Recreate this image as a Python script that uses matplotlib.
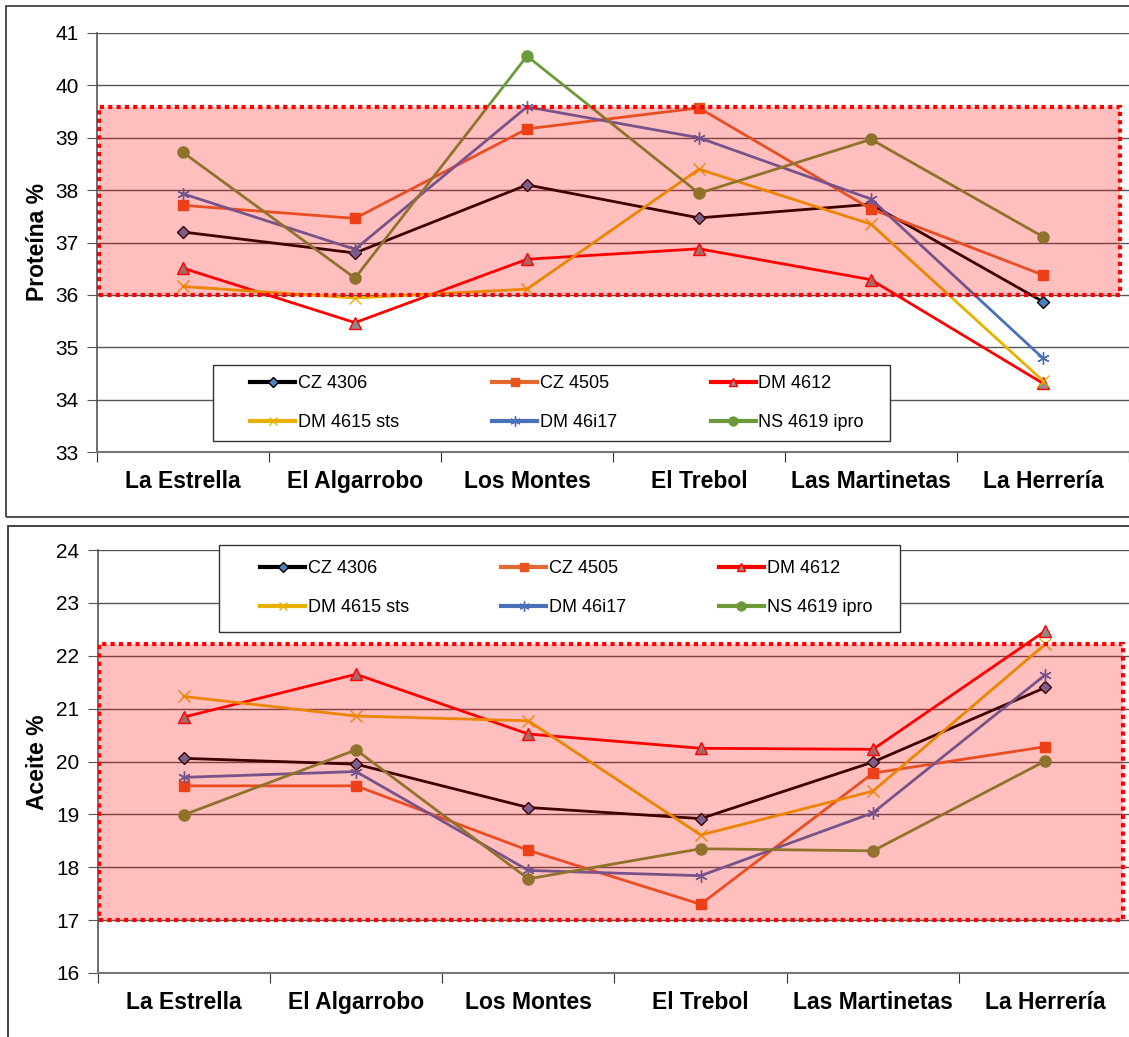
# Protein and oil content per variety across locations (two stacked line charts)

import matplotlib.pyplot as plt
from matplotlib.patches import Rectangle
from matplotlib.lines import Line2D

plt.rcParams["font.family"] = ["Liberation Sans", "DejaVu Sans"]

locations = ["La Estrella", "El Algarrobo", "Los Montes", "El Trebol", "Las Martinetas", "La Herrería"]
varieties = ["CZ 4306", "CZ 4505", "DM 4612", "DM 4615 sts", "DM 46i17", "NS 4619 ipro"]

# Proteína %
prot_cz4306 = [37.20, 36.80, 38.10, 37.47, 37.73, 35.87]
prot_cz4505 = [37.71, 37.46, 39.17, 39.57, 37.64, 36.38]
prot_dm4612 = [36.51, 35.47, 36.68, 36.88, 36.29, 34.31]
prot_dm4615 = [36.16, 35.94, 36.11, 38.40, 37.35, 34.36]
prot_dm46i17 = [37.93, 36.87, 39.59, 39.00, 37.83, 34.79]
prot_ns4619 = [38.72, 36.32, 40.56, 37.94, 38.97, 37.11]

# Aceite %
oil_cz4306 = [20.06, 19.95, 19.13, 18.92, 19.99, 21.40]
oil_cz4505 = [19.54, 19.54, 18.32, 17.30, 19.78, 20.28]
oil_dm4612 = [20.84, 21.65, 20.52, 20.25, 20.23, 22.47]
oil_dm4615 = [21.23, 20.86, 20.77, 18.61, 19.44, 22.22]
oil_dm46i17 = [19.70, 19.81, 17.94, 17.84, 19.03, 21.64]
oil_ns4619 = [18.99, 20.22, 17.78, 18.35, 18.31, 20.01]

# reference band for each chart (low, high)
prot_band = (36.0, 39.58)
oil_band = (17.0, 22.23)

protein = [prot_cz4306, prot_cz4505, prot_dm4612, prot_dm4615, prot_dm46i17, prot_ns4619]
oil = [oil_cz4306, oil_cz4505, oil_dm4612, oil_dm4615, oil_dm46i17, oil_ns4619]

# line colour, marker, marker face, marker edge, marker size
styles = [
    ("black", "D", "#4F81BD", "black", 6.5),
    ("#E2692F", "s", "#E8561E", "#E8561E", 7.5),
    ("red", "^", "#8C8C8C", "red", 8),
    ("#E8B100", "x", "#E8B100", "#E8B100", 8),
    ("#4A70BA", (6, 2, 0), "#4A70BA", "#4A70BA", 9),
    ("#6A9A3A", "o", "#6A9A3A", "#6A9A3A", 8),
]

W, H = 1129, 1037
fig = plt.figure(figsize=(W / 100, H / 100), dpi=100)

# chart frames
fig.patches.append(Rectangle((6 / W, 1 - 517 / H), 1.2, 511 / H, transform=fig.transFigure,
                             fill=False, edgecolor="#333333", lw=1.2))
fig.patches.append(Rectangle((8 / W, 1 - 1100 / H), 1.2, 574 / H, transform=fig.transFigure,
                             fill=False, edgecolor="#222222", lw=1.2))


def draw_panel(ax, series, ymin, ymax, band, ylabel, label_y, frame_box, entries_box):
    x = list(range(len(locations)))
    for vals, (lc, mk, mf, me, ms) in zip(series, styles):
        ax.plot(x, vals, color=lc, lw=2.0, marker=mk, markerfacecolor=mf,
                markeredgecolor=me, markersize=ms, markeredgewidth=1.0, zorder=3)
    # translucent red band drawn above the lines
    ax.add_patch(Rectangle((-0.49, band[0]), 5.94, band[1] - band[0], facecolor="red",
                           alpha=0.25, edgecolor="none", zorder=5))
    ax.add_patch(Rectangle((-0.49, band[0]), 5.94, band[1] - band[0], fill=False,
                           edgecolor="red", lw=3, linestyle=(0, (1, 1)), zorder=6))
    ax.set_xlim(-0.5, 5.5)
    ax.set_ylim(ymin, ymax)
    ax.set_yticks(range(ymin, ymax + 1))
    ax.yaxis.grid(True, color="#555555", lw=1)
    ax.set_axisbelow(True)
    ax.set_xticks([i + 0.5 for i in range(-1, 6)], minor=False)
    ax.set_xticklabels([])
    ax.set_xticks(x, minor=True)
    ax.set_xticklabels(locations, minor=True, fontsize=16.5, fontweight="bold")
    ax.tick_params(axis="x", which="minor", length=0, pad=13)
    ax.tick_params(axis="x", which="major", length=7, color="#333333", direction="out")
    ax.tick_params(axis="y", length=7, color="#555555", labelsize=15, pad=6)
    for side in ["top", "right"]:
        ax.spines[side].set_visible(False)
    ax.spines["left"].set_color("#555555")
    ax.spines["bottom"].set_color("#777777")
    ax.spines["left"].set_linewidth(1.2)
    ax.spines["bottom"].set_linewidth(1.5)
    fig.text(37 / W, label_y, ylabel, rotation=90, ha="center", va="center",
             fontsize=16.5, fontweight="bold")

    # legend frame (inside the axes so the legend entries draw on top of it)
    fx0, fy0, fx1, fy1 = frame_box
    ax.add_patch(Rectangle((fx0 / W, 1 - fy1 / H), (fx1 - fx0) / W, (fy1 - fy0) / H,
                           transform=fig.transFigure, facecolor="white", clip_on=False,
                           edgecolor="#333333", lw=1.0, zorder=9))
    handles = [Line2D([], [], color=lc, lw=3, marker=mk, markerfacecolor=mf,
                      markeredgecolor=me, markersize=ms * 0.8)
               for lc, mk, mf, me, ms in styles]
    order = [0, 3, 1, 4, 2, 5]
    x0, y0, x1, y1 = entries_box
    leg = ax.legend([handles[i] for i in order], [varieties[i] for i in order], ncol=3,
                    loc="center", mode="expand",
                    bbox_to_anchor=(x0 / W, 1 - y1 / H, (x1 - x0) / W, (y1 - y0) / H),
                    bbox_transform=fig.transFigure, fontsize=13, frameon=False,
                    handlelength=2.5, handletextpad=0.15, borderpad=0,
                    labelspacing=1.2, borderaxespad=0, columnspacing=1)
    leg.set_zorder(10)


ax1 = fig.add_axes([97 / W, 1 - 452 / H, 1032 / W, 419 / H])
draw_panel(ax1, protein, 33, 41, prot_band, "Proteína %", 1 - 242 / H,
           (213, 365, 890, 441), (250, 365, 864, 441))

ax2 = fig.add_axes([97.5 / W, 1 - 973 / H, 1034 / W, 423 / H])
draw_panel(ax2, oil, 16, 24, oil_band, "Aceite %", 1 - 762 / H,
           (219, 545, 900, 632), (260, 546, 872, 630))

fig.savefig("out.png", dpi=100)
